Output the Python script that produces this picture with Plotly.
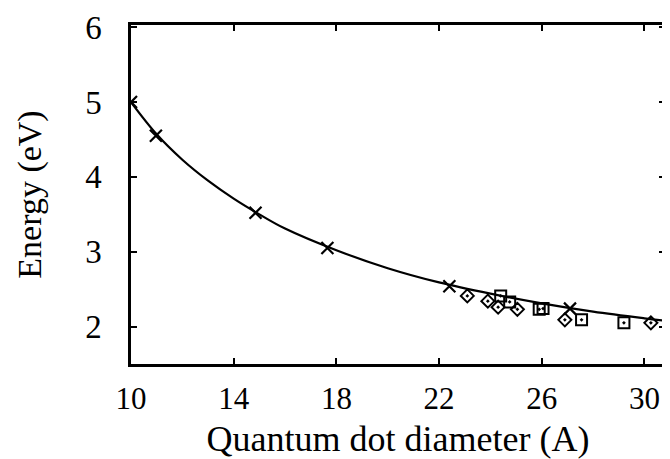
import plotly.graph_objects as go

# Theoretical curve
curve_x = [10, 11, 12, 13, 14, 15, 16, 18, 20, 22, 24, 26, 28, 30, 31]
curve_y = [5.0, 4.57, 4.23, 3.95, 3.71, 3.50, 3.31, 3.02, 2.78, 2.59, 2.44, 2.31, 2.20, 2.11, 2.07]

# Cross markers
cross_x = [10.0, 10.97, 14.85, 17.65, 22.4, 27.1]
cross_y = [5.0, 4.55, 3.52, 3.05, 2.54, 2.24]

# Diamond markers
diamond_x = [23.1, 23.9, 24.3, 25.05, 26.9, 30.25]
diamond_y = [2.41, 2.34, 2.26, 2.23, 2.09, 2.05]

# Square markers
square_x = [24.4, 24.75, 25.9, 26.05, 27.55, 29.2]
square_y = [2.41, 2.33, 2.23, 2.24, 2.09, 2.05]

x_ticks = [10, 14, 18, 22, 26, 30]
y_ticks = [2, 3, 4, 5, 6]

fig = go.Figure()
fig.add_trace(go.Scatter(x=curve_x, y=curve_y, mode="lines",
                         line=dict(color="black", width=2.2, shape="spline"),
                         showlegend=False))
fig.add_trace(go.Scatter(x=cross_x, y=cross_y, mode="markers",
                         marker=dict(symbol="x-thin", size=12,
                                     line=dict(color="black", width=2.2)),
                         showlegend=False))
fig.add_trace(go.Scatter(x=diamond_x, y=diamond_y, mode="markers",
                         marker=dict(symbol="diamond-open-dot", size=10, color="black",
                                     line=dict(color="black", width=2)),
                         showlegend=False))
fig.add_trace(go.Scatter(x=square_x, y=square_y, mode="markers",
                         marker=dict(symbol="square-open-dot", size=11, color="black",
                                     line=dict(color="black", width=2)),
                         showlegend=False))

font_family = "Liberation Serif"
fig.update_layout(
    width=662, height=451,
    margin=dict(l=123, r=2, t=15, b=83),
    paper_bgcolor="white", plot_bgcolor="white",
    font=dict(family=font_family, color="black"),
    xaxis=dict(range=[10, 30.8], tickvals=x_ticks, ticks="inside", ticklen=6,
               tickwidth=2, tickcolor="black", showline=True, linecolor="black",
               linewidth=2.5, mirror="ticks", showgrid=False, zeroline=False,
               tickfont=dict(size=31, family=font_family), ticklabelstandoff=5,
               ticklabeloverflow="allow",
               title=dict(text="Quantum dot diameter (A)",
                          font=dict(size=36, family=font_family), standoff=16)),
    yaxis=dict(range=[1.5, 6.03], tickvals=y_ticks, ticks="inside", ticklen=6,
               tickwidth=2, tickcolor="black", showline=True, linecolor="black",
               linewidth=2.5, mirror="ticks", showgrid=False, zeroline=False,
               tickfont=dict(size=33, family=font_family), ticklabelstandoff=20,
               ticklabeloverflow="allow",
               title=dict(text="Energy (eV)",
                          font=dict(size=34, family=font_family), standoff=34)),
)

fig.write_html("out.html")
